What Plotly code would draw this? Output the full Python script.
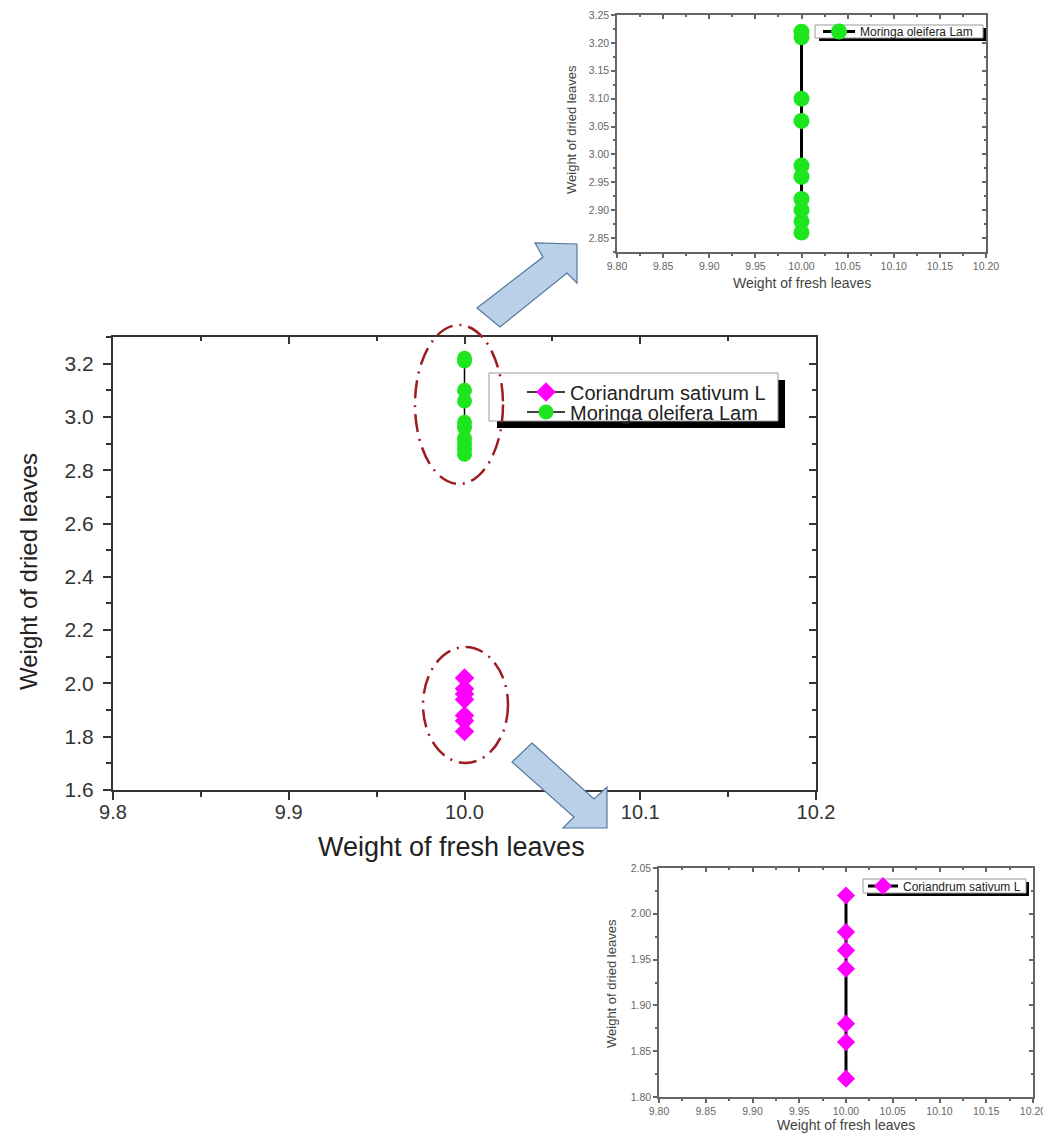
import plotly.graph_objects as go

# page is offset by the default 8px body margin; the figure is sized to fill the rest
OFF = 8
FW, FH = 1051 - OFF, 1134 - OFF

# ---------------- data ----------------
species = ["Coriandrum sativum L", "Moringa oleifera Lam"]
fresh_coriandrum = [10.00, 10.00, 10.00, 10.00, 10.00, 10.00, 10.00]
dried_coriandrum = [2.02, 1.98, 1.96, 1.94, 1.88, 1.86, 1.82]
fresh_moringa = [10.00, 10.00, 10.00, 10.00, 10.00, 10.00, 10.00, 10.00, 10.00, 10.00]
dried_moringa = [3.22, 3.21, 3.10, 3.06, 2.98, 2.96, 2.92, 2.90, 2.88, 2.86]
x_title = "Weight of fresh leaves"
y_title = "Weight of dried leaves"

GREEN = "#1EE61E"
MAGENTA = "#FF00FF"
FONT = "Arial, Liberation Sans, sans-serif"


def px(p):
    return (p - OFF) / FW


def py(p):
    return 1 - (p - OFF) / FH


fig = go.Figure()

# main chart traces (each in its own legend slot so the rows sit tight)
fig.add_trace(go.Scatter(x=fresh_coriandrum, y=dried_coriandrum, name=species[0],
                         mode="lines+markers", xaxis="x", yaxis="y", legend="legend",
                         line=dict(color="black", width=1.5),
                         marker=dict(symbol="diamond", size=15, color=MAGENTA)))
fig.add_trace(go.Scatter(x=fresh_moringa, y=dried_moringa, name=species[1],
                         mode="lines+markers", xaxis="x", yaxis="y", legend="legend4",
                         line=dict(color="black", width=1.5),
                         marker=dict(symbol="circle", size=15, color=GREEN)))
# top inset (Moringa)
fig.add_trace(go.Scatter(x=fresh_moringa, y=dried_moringa, name=species[1],
                         mode="lines+markers", xaxis="x3", yaxis="y3", legend="legend2",
                         line=dict(color="black", width=3),
                         marker=dict(symbol="circle", size=16, color=GREEN)))
# bottom inset (Coriandrum)
fig.add_trace(go.Scatter(x=fresh_coriandrum, y=dried_coriandrum, name=species[0],
                         mode="lines+markers", xaxis="x5", yaxis="y5", legend="legend3",
                         line=dict(color="black", width=3),
                         marker=dict(symbol="diamond", size=14, color=MAGENTA)))
# invisible helpers so the mirror axes render
for xa, ya in (("x2", "y2"), ("x4", "y4"), ("x6", "y6")):
    fig.add_trace(go.Scatter(x=[None], y=[None], xaxis=xa, yaxis=ya, showlegend=False,
                             hoverinfo="skip"))


def axis(rng, dtick, tick0, fmt, mdtick, dom, lw, tlen, mlen, fsize, color, side=None,
         inside=False, anchor=None, overlaying=None, standoff=0):
    d = dict(range=rng, domain=dom, dtick=dtick, tick0=tick0, tickformat=fmt,
             showgrid=False, zeroline=False, showline=True, linewidth=lw, linecolor=color,
             ticks="inside" if inside else "outside", ticklen=tlen, tickwidth=lw,
             tickcolor=color, automargin=False, fixedrange=True,
             ticklabelstandoff=standoff,
             tickfont=dict(family=FONT, size=fsize, color=color),
             minor=dict(dtick=mdtick, tick0=tick0, ticks="inside" if inside else "outside",
                        ticklen=mlen, tickwidth=lw, tickcolor=color, showgrid=False))
    if side:
        d["side"] = side
    if anchor:
        d["anchor"] = anchor
    if overlaying:
        d["overlaying"] = overlaying
        d["showticklabels"] = False
    return d


main_xd = [px(113), px(816)]
main_yd = [py(790), py(337)]
top_xd = [px(617), px(986)]
top_yd = [py(252), py(15)]
bot_xd = [px(659), px(1033)]
bot_yd = [py(1097), py(868)]

C1 = "#333333"
C2 = "#666666"
layout_axes = dict(
    xaxis=axis([9.8, 10.2], 0.1, 9.8, ".1f", 0.05, main_xd, 2, 8, 5, 20, C1, anchor="y",
               standoff=-5),
    yaxis=axis([1.6, 3.3], 0.2, 1.6, ".1f", 0.1, main_yd, 2, 8, 5, 21, C1, anchor="x",
               standoff=5),
    xaxis2=axis([9.8, 10.2], 0.1, 9.8, ".1f", 0.05, main_xd, 2, 7, 4, 20, C1, side="top",
                inside=True, anchor="y2", overlaying="x"),
    yaxis2=axis([1.6, 3.3], 0.2, 1.6, ".1f", 0.1, main_yd, 2, 7, 4, 20, C1, side="right",
                inside=True, anchor="x2", overlaying="y"),
    xaxis3=axis([9.8, 10.2], 0.05, 9.8, ".2f", 0.025, top_xd, 1.5, 4, 2, 10.5, C2, anchor="y3"),
    yaxis3=axis([2.825, 3.25], 0.05, 2.85, ".2f", 0.025, top_yd, 1.5, 4, 2, 10.5, C2, anchor="x3"),
    xaxis4=axis([9.8, 10.2], 0.05, 9.8, ".2f", 0.025, top_xd, 1.5, 4, 2, 10, C2, side="top",
                inside=True, anchor="y4", overlaying="x3"),
    yaxis4=axis([2.825, 3.25], 0.05, 2.85, ".2f", 0.025, top_yd, 1.5, 4, 2, 10, C2, side="right",
                inside=True, anchor="x4", overlaying="y3"),
    xaxis5=axis([9.8, 10.2], 0.05, 9.8, ".2f", 0.025, bot_xd, 1.5, 4, 2, 10.5, C2, anchor="y5"),
    yaxis5=axis([1.80, 2.05], 0.05, 1.80, ".2f", 0.025, bot_yd, 1.5, 4, 2, 10.5, C2, anchor="x5"),
    xaxis6=axis([9.8, 10.2], 0.05, 9.8, ".2f", 0.025, bot_xd, 1.5, 4, 2, 10, C2, side="top",
                inside=True, anchor="y6", overlaying="x5"),
    yaxis6=axis([1.80, 2.05], 0.05, 1.80, ".2f", 0.025, bot_yd, 1.5, 4, 2, 10, C2, side="right",
                inside=True, anchor="x6", overlaying="y5"),
)


def rect(x0, y0, x1, y1, fill, lc=None, lw=0):
    return dict(type="rect", xref="paper", yref="paper", x0=px(x0), x1=px(x1),
                y0=py(y1), y1=py(y0), fillcolor=fill,
                line=dict(width=lw, color=lc or fill), layer="above")


shapes = []
# legend boxes with drop shadows
for (bx0, by0, bx1, by1), d in (((489, 373, 778, 421), 7), ((815, 25, 983, 38), 3),
                                 ((863, 879, 1026, 893), 3)):
    shapes.append(rect(bx0 + d + 1, by0 + d, bx1 + d, by1 + d, "black"))
    shapes.append(rect(bx0, by0, bx1, by1, "white", "#9a9a9a", 1))
# highlight ellipses
for x0, y0, x1, y1 in ((415, 325, 503, 484), (423, 647, 508, 763)):
    shapes.append(dict(type="circle", xref="paper", yref="paper", x0=px(x0), x1=px(x1),
                       y0=py(y1), y1=py(y0),
                       line=dict(color="#9E1B1E", width=2.5, dash="18px,7px,2px,7px"),
                       layer="above"))


def path(points):
    return "M " + " L ".join(f"{px(a):.5f},{py(b):.5f}" for a, b in points) + " Z"


arrow_top = [(477, 308), (543, 257), (535, 243), (577, 244), (577, 283), (567, 273), (500, 327)]
arrow_bot = [(532, 743), (594, 799), (607, 787), (607, 828), (563, 828), (574, 817), (512, 762)]
for pts in (arrow_top, arrow_bot):
    shapes.append(dict(type="path", xref="paper", yref="paper", path=path(pts),
                       fillcolor="#BACFE8", line=dict(color="#56779C", width=1.2),
                       layer="above"))


def ann(text, x, y, size, color, angle=0):
    return dict(text=text, x=px(x), y=py(y), xref="paper", yref="paper", showarrow=False,
                xanchor="center", yanchor="middle", textangle=angle,
                font=dict(family=FONT, size=size, color=color))


annotations = [
    ann(x_title, 451, 847, 27, "#222"),
    ann(y_title, 28, 572, 24, "#222", -90),
    ann(x_title, 802, 283, 14, "#444"),
    ann(y_title, 571, 130, 13, "#444", -90),
    ann(x_title, 846, 1125, 14, "#444"),
    ann(y_title, 611, 984, 13, "#444", -90),
]


def leg(x, y, size, iw):
    return dict(x=px(x), y=py(y), xanchor="left", yanchor="middle",
                bgcolor="rgba(0,0,0,0)", borderwidth=0, itemwidth=iw, tracegroupgap=0,
                font=dict(family=FONT, size=size, color="#222"))


fig.update_layout(
    width=FW, height=FH, margin=dict(l=0, r=0, t=0, b=0),
    paper_bgcolor="white", plot_bgcolor="white",
    font=dict(family=FONT, color="#333"),
    showlegend=True,
    legend=leg(522, 392, 20, 38),
    legend4=leg(522, 412, 20, 38),
    legend2=leg(818, 31.5, 12, 32),
    legend3=leg(863, 886, 12, 30),
    shapes=shapes, annotations=annotations,
    **layout_axes,
)

fig.write_html("out.html")
